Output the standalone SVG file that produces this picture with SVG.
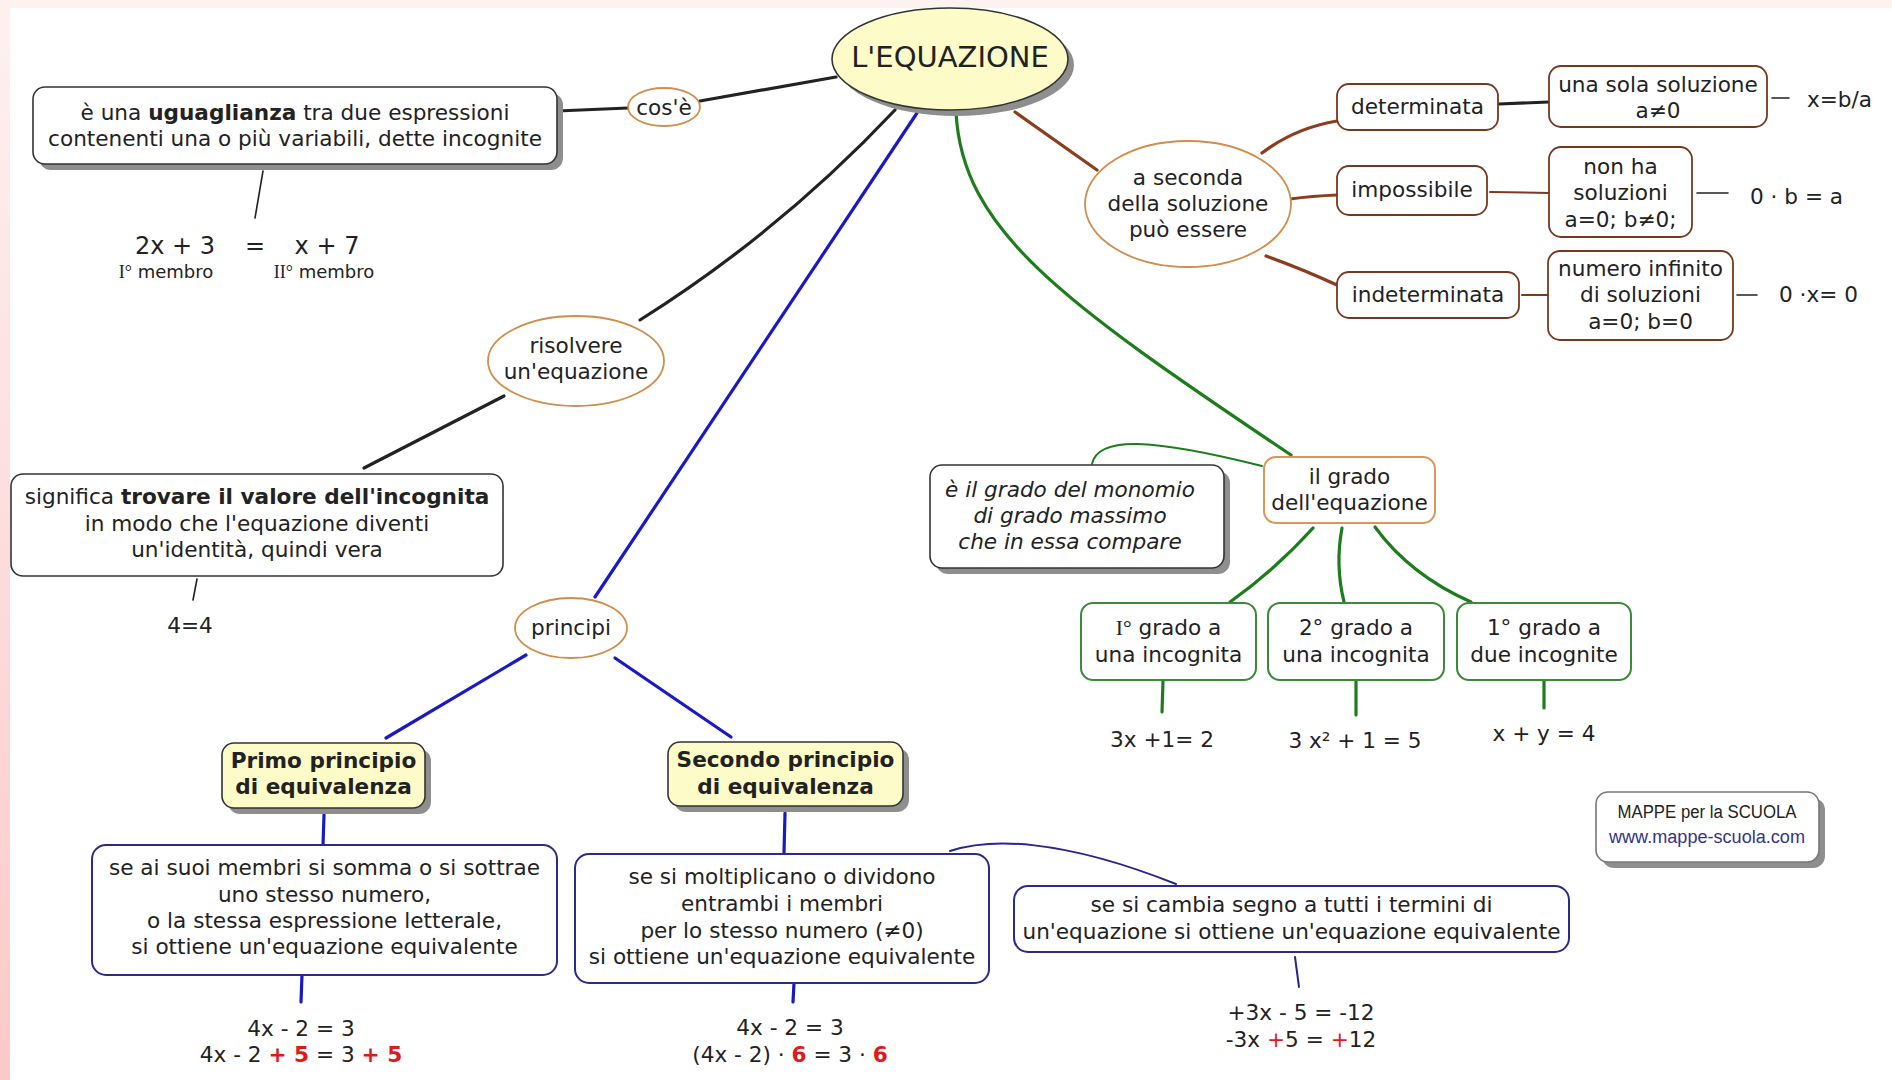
<svg xmlns="http://www.w3.org/2000/svg" width="1892" height="1080" viewBox="0 0 1892 1080">
  <defs>
    <linearGradient id="edge" x1="0" y1="0" x2="0" y2="1">
      <stop offset="0" stop-color="#fdf1f0"/>
      <stop offset="1" stop-color="#fcc9c9"/>
    </linearGradient>
    <style>
      .t { font-family: 'DejaVu Sans', Verdana, sans-serif; font-size: 21.6px; fill: #222; text-anchor: middle; }
      .b { font-weight: bold; }
      .i { font-style: italic; }
      .serif { font-family: 'Liberation Serif', 'Times New Roman', serif; }
      .red { fill: #e01a1a; }
      .sh { fill: #8e8e8e; }
      .box { fill: #fff; stroke: #333; stroke-width: 1.6; }
      .yel { fill: #fdfbc8; stroke: #333; stroke-width: 1.6; }
      .oval { fill: #fff; stroke: #d08d4c; stroke-width: 1.8; }
      .brn { fill: #fff; stroke: #74391f; stroke-width: 1.8; }
      .nav { fill: #fff; stroke: #2c2c88; stroke-width: 2; }
      .grn { fill: #fff; stroke: #3a8a3a; stroke-width: 2; }
      .ogb { fill: #fff; stroke: #d9975a; stroke-width: 2; }
      #connectors path { fill: none; stroke-linecap: round; }
      .k { stroke: #222; stroke-width: 3.2; }
      .kt { stroke: #222; stroke-width: 1.6; }
      .bl { stroke: #1a1ac4; stroke-width: 3.2; }
      .nv { stroke: #262690; stroke-width: 2; }
      .br { stroke: #8a3e1e; stroke-width: 3.2; }
      .brt { stroke: #7a3a20; stroke-width: 2; }
      .g { stroke: #1d7d1d; stroke-width: 3.2; }
      .gt { stroke: #1d7d1d; stroke-width: 2; }
    </style>
  </defs>

  <!-- page background with tinted edges -->
  <rect x="0" y="0" width="1892" height="1080" fill="#fff"/>
  <rect x="0" y="0" width="1892" height="8" fill="#fcf3f1"/>
  <rect x="0" y="0" width="10" height="1080" fill="url(#edge)"/>

  <!-- connectors -->
  <g id="connectors">
    <path class="k" d="M557,111 L628,108"/>
    <path class="k" d="M700,101 L836,77"/>
    <path class="kt" d="M263,171 L255,218"/>
    <path class="k" d="M895,110 Q780,232 640,320"/>
    <path class="k" d="M504,396 L364,468"/>
    <path class="kt" d="M197,579 L193,600"/>

    <path class="bl" d="M917,113 L595,597"/>
    <path class="bl" d="M526,655 L386,738"/>
    <path class="bl" d="M615,658 L731,737"/>
    <path class="bl" d="M324,815 L323,845"/>
    <path class="bl" d="M302,975 L301,1002"/>
    <path class="bl" d="M785,813 L784,853"/>
    <path class="bl" d="M794,983 L793,1002"/>
    <path class="nv" d="M950,851 C990,838 1060,838 1176,884"/>
    <path class="nv" d="M1295,957 L1299,987"/>

    <path class="br" d="M1015,112 L1097,170"/>
    <path class="br" d="M1262,153 Q1295,128 1337,121"/>
    <path class="br" d="M1290,199 Q1312,196 1337,195"/>
    <path class="br" d="M1266,256 Q1300,268 1337,285"/>
    <path class="k" d="M1499,104 L1549,102"/>
    <path class="brt" d="M1490,192 L1549,193"/>
    <path class="brt" d="M1522,295 L1548,295"/>
    <path class="kt" d="M1772,98 L1789,98"/>
    <path class="kt" d="M1697,193 L1728,193"/>
    <path class="kt" d="M1737,295 L1757,295"/>

    <path class="g" d="M956,112 C962,230 1060,300 1291,455"/>
    <path class="gt" d="M1262,466 C1150,438 1098,436 1092,464"/>
    <path class="g" d="M1313,528 Q1275,570 1230,602"/>
    <path class="g" d="M1342,528 Q1335,565 1344,602"/>
    <path class="g" d="M1375,527 Q1410,575 1471,602"/>
    <path class="g" d="M1163,681 L1162,712"/>
    <path class="g" d="M1356,681 L1356,715"/>
    <path class="g" d="M1544,681 L1544,708"/>
  </g>

  <!-- central concept -->
  <g id="equazione">
    <ellipse class="sh" cx="956" cy="65" rx="118" ry="51"/>
    <ellipse class="yel" cx="950" cy="59" rx="118" ry="51"/>
    <text class="t" x="950" y="67" style="font-size:29px">L'EQUAZIONE</text>
  </g>

  <g id="cose">
    <ellipse class="oval" cx="664" cy="107" rx="36" ry="19"/>
    <text class="t" x="664" y="115">cos'è</text>
  </g>

  <g id="uguaglianza">
    <rect class="sh" x="39" y="93" width="524" height="77" rx="12"/>
    <rect class="box" x="33" y="87" width="524" height="77" rx="12"/>
    <text class="t" x="295" y="120">è una <tspan class="b">uguaglianza</tspan> tra due espressioni</text>
    <text class="t" x="295" y="146">contenenti una o più variabili, dette incognite</text>
  </g>

  <g id="membri">
    <text class="t" x="175" y="254" style="font-size:24px">2x + 3</text>
    <text class="t" x="255" y="254" style="font-size:24px">=</text>
    <text class="t" x="327" y="254" style="font-size:24px">x + 7</text>
    <text class="t" x="166" y="278" style="font-size:18px"><tspan class="serif">I°</tspan> membro</text>
    <text class="t" x="324" y="278" style="font-size:18px"><tspan class="serif">II°</tspan> membro</text>
  </g>

  <g id="risolvere">
    <ellipse class="oval" cx="576" cy="361" rx="88" ry="45"/>
    <text class="t" x="576" y="353">risolvere</text>
    <text class="t" x="576" y="379">un'equazione</text>
  </g>

  <g id="significa">
    <rect class="box" x="11" y="474" width="492" height="102" rx="12"/>
    <text class="t" x="257" y="504">significa <tspan class="b">trovare il valore dell'incognita</tspan></text>
    <text class="t" x="257" y="531">in modo che l'equazione diventi</text>
    <text class="t" x="257" y="557">un'identità, quindi vera</text>
  </g>

  <g id="identita">
    <text class="t" x="190" y="633">4=4</text>
  </g>

  <g id="principi">
    <ellipse class="oval" cx="571" cy="628" rx="56" ry="30"/>
    <text class="t" x="571" y="635">principi</text>
  </g>

  <g id="primo">
    <rect class="sh" x="228" y="749" width="203" height="65" rx="12"/>
    <rect class="yel" x="222" y="743" width="203" height="65" rx="12"/>
    <text class="t b" x="323.5" y="768">Primo principio</text>
    <text class="t b" x="323.5" y="794">di equivalenza</text>
  </g>

  <g id="primo-testo">
    <rect class="nav" x="92" y="845" width="465" height="130" rx="14"/>
    <text class="t" x="324.5" y="875">se ai suoi membri si somma o si sottrae</text>
    <text class="t" x="324.5" y="902">uno stesso numero,</text>
    <text class="t" x="324.5" y="928">o la stessa espressione letterale,</text>
    <text class="t" x="324.5" y="954">si ottiene un'equazione equivalente</text>
  </g>

  <g id="primo-esempio">
    <text class="t" x="301" y="1036">4x - 2 = 3</text>
    <text class="t" x="301" y="1062">4x - 2 <tspan class="red b">+ 5</tspan> = 3 <tspan class="red b">+ 5</tspan></text>
  </g>

  <g id="secondo">
    <rect class="sh" x="674" y="748" width="235" height="64" rx="12"/>
    <rect class="yel" x="668" y="742" width="235" height="64" rx="12"/>
    <text class="t b" x="785.5" y="767">Secondo principio</text>
    <text class="t b" x="785.5" y="794">di equivalenza</text>
  </g>

  <g id="secondo-testo">
    <rect class="nav" x="575" y="854" width="414" height="129" rx="14"/>
    <text class="t" x="782" y="884">se si moltiplicano o dividono</text>
    <text class="t" x="782" y="911">entrambi i membri</text>
    <text class="t" x="782" y="938">per lo stesso numero (≠0)</text>
    <text class="t" x="782" y="964">si ottiene un'equazione equivalente</text>
  </g>

  <g id="secondo-esempio">
    <text class="t" x="790" y="1035">4x - 2 = 3</text>
    <text class="t" x="790" y="1062">(4x - 2) · <tspan class="red b">6</tspan> = 3 · <tspan class="red b">6</tspan></text>
  </g>

  <g id="cambio-segno">
    <rect class="nav" x="1014" y="886" width="555" height="66" rx="14"/>
    <text class="t" x="1291.5" y="912">se si cambia segno a tutti i termini di</text>
    <text class="t" x="1291.5" y="939">un'equazione si ottiene un'equazione equivalente</text>
  </g>

  <g id="cambio-esempio">
    <text class="t" x="1301" y="1020">+3x - 5 = -12</text>
    <text class="t" x="1301" y="1047">-3x <tspan class="red">+</tspan>5 = <tspan class="red">+</tspan>12</text>
  </g>

  <g id="firma">
    <rect class="sh" x="1602" y="798" width="223" height="70" rx="12"/>
    <rect class="box" x="1596" y="792" width="223" height="70" rx="12" style="stroke:#777"/>
    <text class="t" x="1707" y="818" style="font-family:'Liberation Sans', Arial, sans-serif; font-size:18px" textLength="179" lengthAdjust="spacingAndGlyphs">MAPPE per la SCUOLA</text>
    <text class="t" x="1707" y="843" style="font-family:'Liberation Sans', Arial, sans-serif; font-size:18px; fill:#33338a" textLength="196" lengthAdjust="spacingAndGlyphs">www.mappe-scuola.com</text>
  </g>

  <g id="soluzione">
    <ellipse class="oval" cx="1188" cy="204" rx="103" ry="63"/>
    <text class="t" x="1188" y="185">a seconda</text>
    <text class="t" x="1188" y="211">della soluzione</text>
    <text class="t" x="1188" y="237">può essere</text>
  </g>

  <g id="determinata">
    <rect class="brn" x="1337" y="84" width="161" height="46" rx="12"/>
    <text class="t" x="1417.5" y="114">determinata</text>
  </g>
  <g id="impossibile">
    <rect class="brn" x="1337" y="166" width="150" height="49" rx="12"/>
    <text class="t" x="1412" y="197">impossibile</text>
  </g>
  <g id="indeterminata">
    <rect class="brn" x="1337" y="272" width="182" height="46" rx="12"/>
    <text class="t" x="1428" y="302">indeterminata</text>
  </g>

  <g id="una-soluzione">
    <rect class="brn" x="1549" y="66" width="218" height="61" rx="12"/>
    <text class="t" x="1658" y="92">una sola soluzione</text>
    <text class="t" x="1658" y="118">a≠0</text>
  </g>
  <g id="nessuna-soluzione">
    <rect class="brn" x="1549" y="147" width="143" height="90" rx="12"/>
    <text class="t" x="1620.5" y="174">non ha</text>
    <text class="t" x="1620.5" y="200">soluzioni</text>
    <text class="t" x="1620.5" y="227">a=0; b≠0;</text>
  </g>
  <g id="infinite-soluzioni">
    <rect class="brn" x="1548" y="251" width="185" height="89" rx="12"/>
    <text class="t" x="1640.5" y="276">numero infinito</text>
    <text class="t" x="1640.5" y="302">di soluzioni</text>
    <text class="t" x="1640.5" y="329">a=0; b=0</text>
  </g>

  <g id="formula-determinata">
    <text class="t" x="1807" y="107" style="text-anchor:start">x=b/a</text>
  </g>
  <g id="formula-impossibile">
    <text class="t" x="1750" y="204" style="text-anchor:start">0 · b = a</text>
  </g>
  <g id="formula-indeterminata">
    <text class="t" x="1779" y="302" style="text-anchor:start">0 ·x= 0</text>
  </g>

  <g id="grado">
    <rect class="ogb" x="1264" y="457" width="171" height="66" rx="12"/>
    <text class="t" x="1349.5" y="484">il grado</text>
    <text class="t" x="1349.5" y="510">dell'equazione</text>
  </g>

  <g id="grado-definizione">
    <rect class="sh" x="936" y="471" width="294" height="103" rx="12"/>
    <rect class="box" x="930" y="465" width="294" height="103" rx="12"/>
    <text class="t i" x="1070" y="497">è il grado del monomio</text>
    <text class="t i" x="1070" y="523">di grado massimo</text>
    <text class="t i" x="1070" y="549">che in essa compare</text>
  </g>

  <g id="primo-grado">
    <rect class="grn" x="1081" y="603" width="175" height="77" rx="12"/>
    <text class="t" x="1168.5" y="635"><tspan class="serif">I°</tspan> grado a</text>
    <text class="t" x="1168.5" y="662">una incognita</text>
  </g>
  <g id="secondo-grado">
    <rect class="grn" x="1268" y="603" width="176" height="77" rx="12"/>
    <text class="t" x="1356" y="635">2° grado a</text>
    <text class="t" x="1356" y="662">una incognita</text>
  </g>
  <g id="due-incognite">
    <rect class="grn" x="1457" y="603" width="174" height="77" rx="12"/>
    <text class="t" x="1544" y="635">1° grado a</text>
    <text class="t" x="1544" y="662">due incognite</text>
  </g>

  <g id="esempi-grado">
    <text class="t" x="1162" y="747">3x +1= 2</text>
    <text class="t" x="1355" y="748">3 x² + 1 = 5</text>
    <text class="t" x="1544" y="741">x + y = 4</text>
  </g>
</svg>
